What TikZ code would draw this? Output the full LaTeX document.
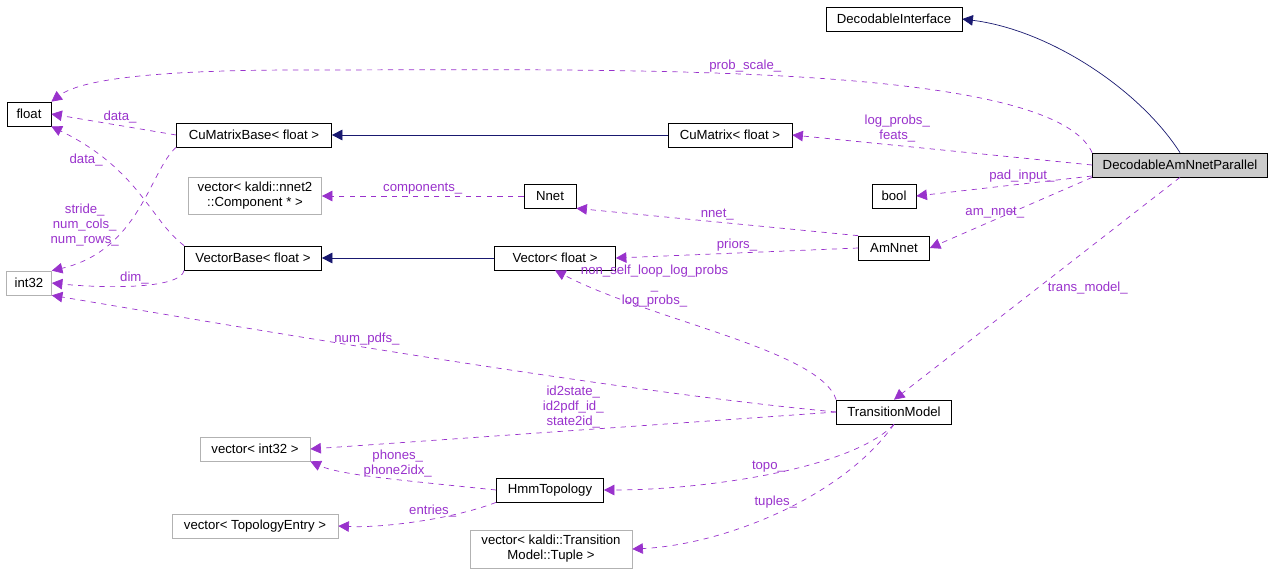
\documentclass[tikz,border=0pt]{standalone}
\usepackage{fontspec}
\setmainfont{Liberation Sans}
\usetikzlibrary{arrows.meta}
\definecolor{navy}{RGB}{25,25,112}
\definecolor{usage}{RGB}{153,50,204}
\tikzset{
  cls/.style={draw,fill=white,inner sep=0pt,minimum height=0.48cm,font=\fontsize{7.5}{8.5}\selectfont,align=center},
  ext/.style={cls,draw=gray!60},
  self/.style={cls,fill=gray!40},
  inherit/.style={navy,-{Triangle[open,fill=navy,length=6pt,width=6pt]},thin},
  uses/.style={usage,dashed,-{Triangle[open,fill=usage,length=6pt,width=6pt]},thin},
  lbl/.style={font=\fontsize{7.5}{8.5}\selectfont,align=center,inner sep=0pt}
}
\begin{document}
\begin{tikzpicture}[x=0.02cm,y=-0.02cm]
  \useasboundingbox (0,0) rectangle (1273,575);
  % classes
  \node[cls,minimum width=2.72cm]  (di)   at (894,19)  {DecodableInterface};
  \node[cls,minimum width=0.88cm]  (flt)  at (29,114)  {float};
  \node[cls,minimum width=3.1cm]   (cmb)  at (254,135) {CuMatrixBase< float >};
  \node[cls,minimum width=2.48cm]  (cm)   at (730,135) {CuMatrix< float >};
  \node[self,minimum width=3.5cm]  (danp) at (1180,165) {DecodableAmNnetParallel};
  \node[ext,minimum width=2.66cm,minimum height=0.74cm] (vcomp) at (255,196) {vector< kaldi::nnet2\\::Component * >};
  \node[cls,minimum width=1.04cm]  (nnet) at (550,196) {Nnet};
  \node[cls,minimum width=0.88cm]  (bool) at (894,196) {bool};
  \node[ext,minimum width=0.9cm]   (i32)  at (29,283)  {int32};
  \node[cls,minimum width=2.74cm]  (vb)   at (253,258) {VectorBase< float >};
  \node[cls,minimum width=2.42cm]  (vec)  at (555,258) {Vector< float >};
  \node[cls,minimum width=1.42cm]  (am)   at (894,248) {AmNnet};
  \node[cls,minimum width=2.3cm]   (tm)   at (894,412) {TransitionModel};
  \node[ext,minimum width=2.2cm]   (vi32) at (255,449) {vector< int32 >};
  \node[cls,minimum width=2.14cm]  (hmm)  at (550,490) {HmmTopology};
  \node[ext,minimum width=3.32cm]  (vte)  at (255,526) {vector< TopologyEntry >};
  \node[ext,minimum width=3.24cm,minimum height=0.76cm] (vtup) at (551,549) {vector< kaldi::Transition\\Model::Tuple >};
  % inheritance
  \draw[inherit] (danp.north) .. controls (1140,90) and (1050,30) .. (di.east);
  \draw[inherit] (cm) -- (cmb);
  \draw[inherit] (vec) -- (vb);
  % usage
  \draw[uses] (danp.north west) .. controls (1050,60) and (600,70) .. node[lbl,above=1pt,pos=0.55]{prob\_scale\_} (300,70) .. controls (150,70) and (80,80) .. (flt.north east);
  \draw[uses] (danp.west) -- node[lbl,pos=0.65,above=2pt]{log\_probs\_\\feats\_} (cm.east);
  \draw[uses] (danp.west|-0,176) -- node[lbl,pos=0.4,above=1pt]{pad\_input\_} (bool.east);
  \draw[uses] (danp.south west) -- node[lbl,pos=0.6,above=1pt]{am\_nnet\_} (am.east);
  \draw[uses] (danp.south) -- node[lbl,pos=0.5,right=6pt]{trans\_model\_} (tm.north);
  \draw[uses] (cmb.west) -- node[lbl,pos=0.45,above=1pt]{data\_} (flt.east);
  \draw[uses] (vb.north west) .. controls (150,220) and (140,170) .. node[lbl,pos=0.75,left=1pt]{data\_} (flt.south east);
  \draw[uses] (cmb.south west) .. controls (150,170) and (140,250) .. node[lbl,pos=0.6,left=4pt]{stride\_\\num\_cols\_\\num\_rows\_} (i32.north east);
  \draw[uses] (vb.south west) .. controls (180,290) and (100,288) .. node[lbl,pos=0.5,above=1pt]{dim\_} (i32.east);
  \draw[uses] (nnet.west) -- node[lbl,above=1pt]{components\_} (vcomp.east);
  \draw[uses] (am.north west) -- node[lbl,above=1pt]{nnet\_} (nnet.south east);
  \draw[uses] (am.west) -- node[lbl,above=1pt]{priors\_} (vec.east);
  \draw[uses] (tm.north west) .. controls (820,350) and (650,320) .. node[lbl,pos=0.7,above=2pt]{non\_self\_loop\_log\_probs\\\_\\log\_probs\_} (vec.south);
  \draw[uses] (tm.west) .. controls (600,390) and (200,320) .. node[lbl,pos=0.55,above=1pt]{num\_pdfs\_} (i32.south east);
  \draw[uses] (tm.west) -- node[lbl,pos=0.5,above=1pt]{id2state\_\\id2pdf\_id\_\\state2id\_} (vi32.east);
  \draw[uses] (tm.south) .. controls (850,470) and (700,490) .. node[lbl,pos=0.5,above=1pt]{topo\_} (hmm.east);
  \draw[uses] (tm.south) .. controls (840,500) and (720,545) .. node[lbl,pos=0.5,above=3pt]{tuples\_} (vtup.east);
  \draw[uses] (hmm.west) .. controls (400,480) and (340,475) .. node[lbl,pos=0.4,above=1pt]{phones\_\\phone2idx\_} (vi32.south east);
  \draw[uses] (hmm.south west) .. controls (450,520) and (380,528) .. node[lbl,pos=0.4,above=1pt]{entries\_} (vte.east);
\end{tikzpicture}
\end{document}
